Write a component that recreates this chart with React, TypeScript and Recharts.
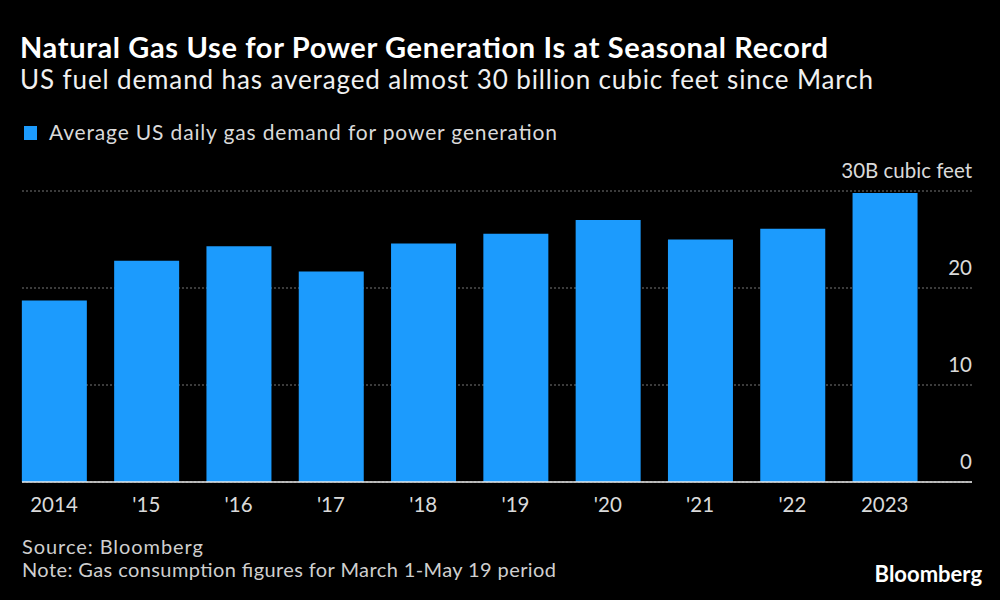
import React from "react";
import { BarChart, Bar, XAxis, YAxis, CartesianGrid } from "recharts";

// values, billion cubic feet per day
const years = ["2014", "'15", "'16", "'17", "'18", "'19", "'20", "'21", "'22", "2023"];
const demand = [18.7, 22.8, 24.3, 21.7, 24.6, 25.6, 27.0, 25.0, 26.1, 29.8];
const yTicks = [0, 10, 20, 30];

const data = years.map((year, i) => ({ year, demand: demand[i] }));

const FONT = "Lato, 'Noto Sans', sans-serif";
const BLUE = "#1c9bfd";
const LABEL = "#dadada";

const YTick = ({ x, y, payload }: any) => (
  <text x={x} y={y - 13} textAnchor="end" fill={LABEL} fontSize={20.5} fontFamily={FONT}>
    {payload.value === 30 ? "30B cubic feet" : payload.value}
  </text>
);

const XTick = ({ x, y, payload }: any) => (
  <text x={x} y={y + 30} textAnchor="middle" fill={LABEL} fontSize={20.5} fontFamily={FONT}>
    {payload.value}
  </text>
);

export default function App() {
  return (
    <div
      style={{
        position: "absolute",
        left: 0,
        top: 0,
        width: 1000,
        height: 600,
        background: "#000",
        fontFamily: FONT,
      }}
    >
      <svg width={1000} height={600} style={{ position: "absolute", left: 0, top: 0 }}>
        <text x={20} y={58} fill="#fff" fontSize={29} fontWeight={700} fontFamily={FONT}
          textLength={808} lengthAdjust="spacing">
          Natural Gas Use for Power Generation Is at Seasonal Record
        </text>
        <text x={20} y={89} fill="#f0f0f0" fontSize={26} fontFamily={FONT}
          textLength={853} lengthAdjust="spacing">
          US fuel demand has averaged almost 30 billion cubic feet since March
        </text>
        <rect x={24} y={126} width={13} height={14} fill={BLUE} />
        <text x={49} y={140} fill={LABEL} fontSize={21} fontFamily={FONT}
          textLength={508} lengthAdjust="spacing">
          Average US daily gas demand for power generation
        </text>
        <text x={22} y={554} fill="#cfcfcf" fontSize={20} fontFamily={FONT}
          textLength={181} lengthAdjust="spacing">
          Source: Bloomberg
        </text>
        <text x={22} y={577} fill="#cfcfcf" fontSize={20} fontFamily={FONT}
          textLength={534} lengthAdjust="spacing">
          Note: Gas consumption figures for March 1-May 19 period
        </text>
        <text x={982} y={582} textAnchor="end" fill="#fff" fontSize={22} fontWeight={700} fontFamily={FONT}>
          Bloomberg
        </text>
      </svg>
      <div style={{ position: "absolute", left: 0, top: 0 }}>
        <BarChart
          width={1000}
          height={530}
          data={data}
          margin={{ top: 191, right: 27, left: 22, bottom: 0 }}
        >
          <CartesianGrid vertical={false} stroke="#777" strokeDasharray="2 2" />
          <XAxis
            dataKey="year"
            height={48}
            padding={{ left: -14.15, right: 41.15 }}
            tickLine={false}
            tickSize={0}
            tickMargin={0}
            axisLine={{ stroke: "#e8e8e8", strokeWidth: 1.5 }}
            tick={<XTick />}
            interval={0}
          />
          <YAxis
            orientation="right"
            width={1}
            domain={[0, 30]}
            ticks={yTicks}
            axisLine={false}
            tickLine={false}
            tickSize={0}
            tickMargin={0}
            tick={<YTick />}
            interval={0}
          />
          <Bar dataKey="demand" fill={BLUE} barSize={65} isAnimationActive={false} />
        </BarChart>
      </div>
    </div>
  );
}
